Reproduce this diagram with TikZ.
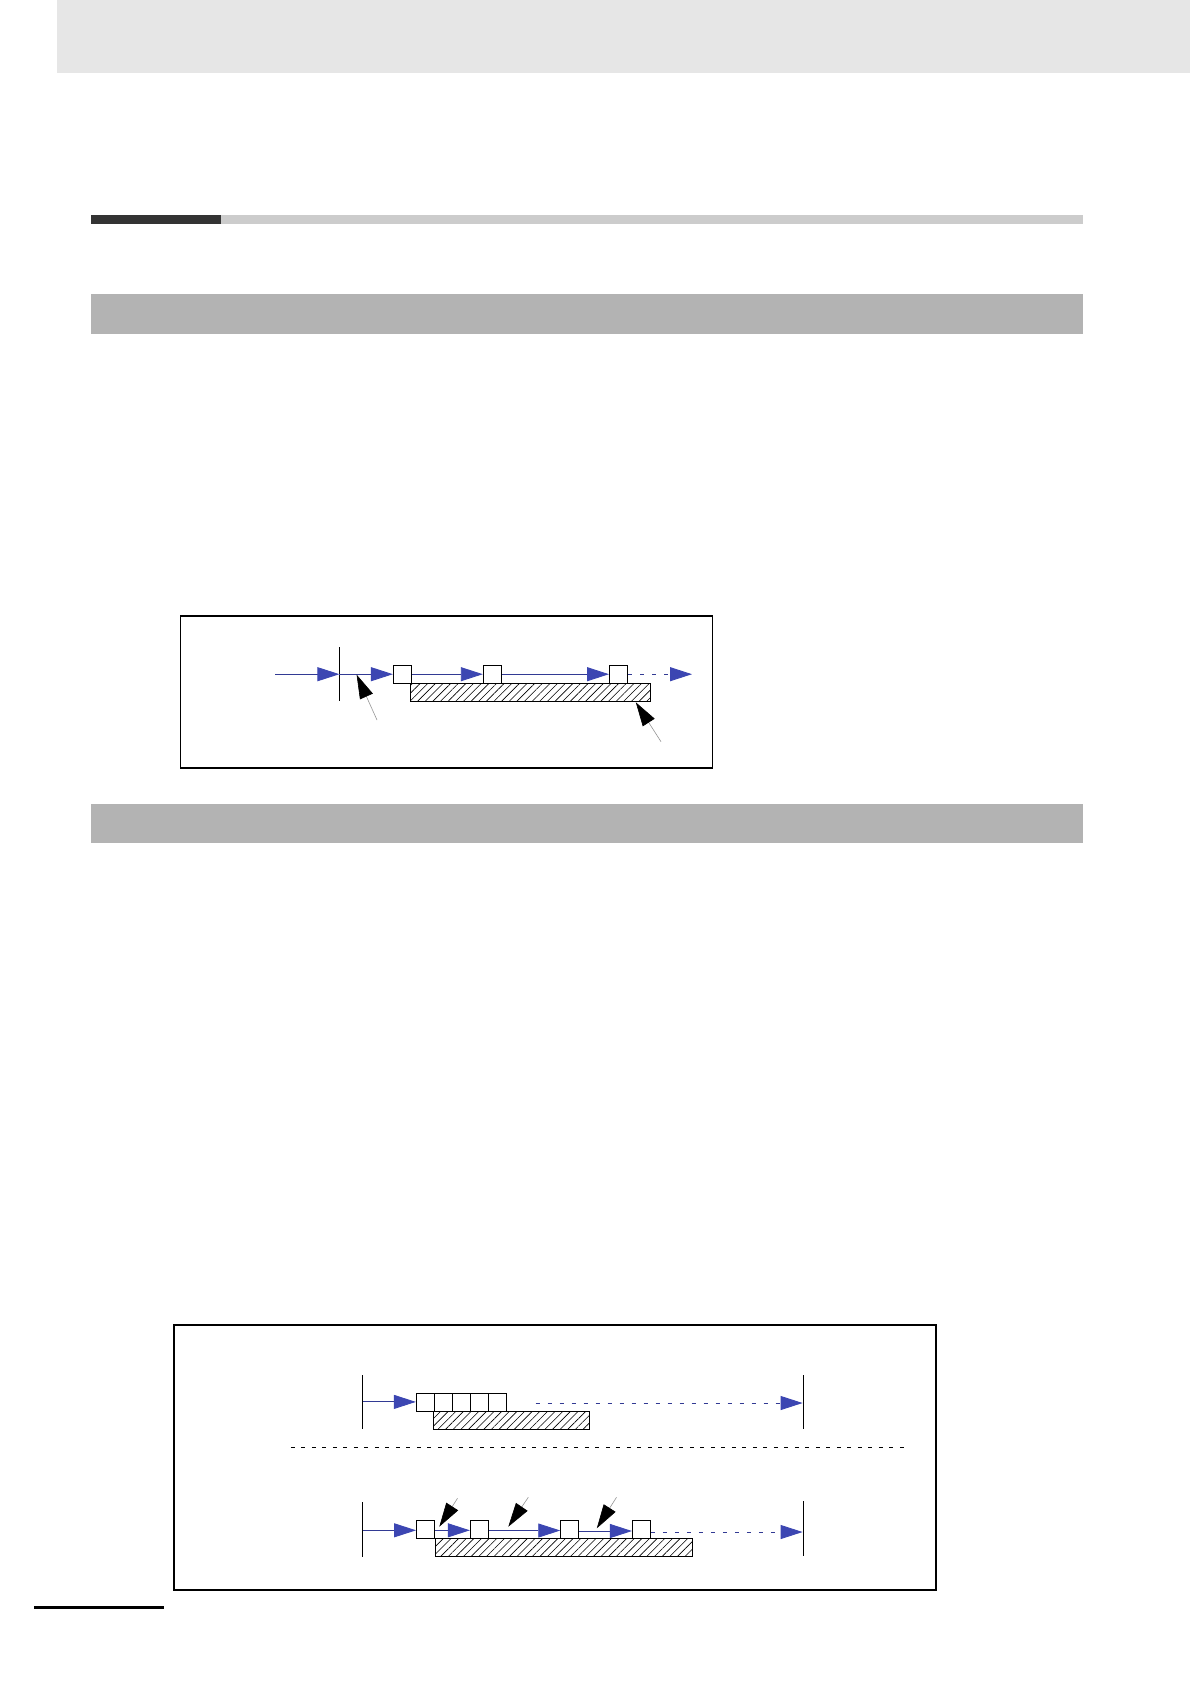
\documentclass[tikz,border=0pt]{standalone}
\usetikzlibrary{arrows.meta,patterns.meta}
\definecolor{bandgray}{HTML}{E6E6E6}
\definecolor{bargray}{HTML}{B3B3B3}
\definecolor{lightbar}{HTML}{CCCCCC}
\definecolor{darkbar}{HTML}{333333}
\definecolor{lineblue}{RGB}{50,58,148}
\definecolor{headblue}{RGB}{60,70,178}
\definecolor{ptrgray}{RGB}{150,150,150}
\tikzset{
  frame/.style={draw=black,line width=1.1bp},
  sq/.style={draw=black,fill=white,line width=0.9bp,inner sep=0pt,minimum size=18.3bp},
  hatchbox/.style={draw=black,line width=0.9bp,inner sep=0pt,
    pattern={Lines[angle=45,distance=5.4bp,line width=0.6bp]}},
  flow/.style={draw=lineblue,line width=0.9bp,-{Triangle[length=22bp,width=14bp,color=headblue]}},
  flowdash/.style={flow,dash pattern=on 4bp off 8bp},
  vbar/.style={draw=black,line width=1.3bp},
  pointer/.style={draw=ptrgray,line width=0.6bp,-{Triangle[length=24bp,width=14bp,color=black]}},
  sepline/.style={draw=black,line width=0.9bp,dash pattern=on 4bp off 6.5bp}
}
\begin{document}
\begin{tikzpicture}[x=1bp,y=-1bp]
\useasboundingbox (0,0) rectangle (1190,1684);
\fill[white] (0,0) rectangle (1190,1684);
% page decoration
\fill[bandgray] (57,0) rectangle (1190,73);
\fill[darkbar] (91,215) rectangle (221,223.5);
\fill[lightbar] (221,215) rectangle (1083,223.5);
\fill[bargray] (91,293.5) rectangle (1083,334);
\fill[bargray] (91,803.5) rectangle (1083,843);
\draw[black,line width=2.2bp] (34,1607.5) -- (164,1607.5);

% ---------- Figure 1 ----------
\node[frame,inner sep=0pt,minimum width=532bp,minimum height=152bp] (box1) at (446.5,692) {};
\node[hatchbox,minimum width=240.2bp,minimum height=18bp] (h1) at (530.4,692.3) {};
\node[sq] (s1) at (402.5,674.2) {};
\node[sq] (s2) at (492.4,674.2) {};
\node[sq] (s3) at (618.6,674.2) {};
\coordinate (a0) at (275.2,674.2);
\coordinate (v1) at (339.4,674.2);
\coordinate (v1t) at (339.4,647);
\coordinate (v1b) at (339.4,701);
\coordinate (e1) at (692,674.2);
\draw[vbar] (v1t) -- (v1b);
\draw[flow] (a0) -- (v1);
\draw[flow] (v1) -- (s1.west);
\draw[flow] (s1.east) -- (s2.west);
\draw[flow] (s2.east) -- (s3.west);
\draw[flowdash] (s3.east) -- (e1);
\coordinate (p1tail) at (377,720);
\coordinate (p1tip) at (356.6,674.6);
\coordinate (p2tail) at (661,741.7);
\coordinate (p2tip) at (635.8,702.3);
\draw[pointer] (p1tail) -- (p1tip);
\draw[pointer] (p2tail) -- (p2tip);

% ---------- Figure 2 ----------
\node[frame,inner sep=0pt,minimum width=762bp,minimum height=265bp] (box2) at (555,1457.5) {};
% upper row
\coordinate (u0t) at (362.5,1375);
\coordinate (u0b) at (362.5,1429);
\coordinate (u1t) at (803.3,1375);
\coordinate (u1b) at (803.3,1429);
\draw[vbar] (u0t) -- (u0b);
\draw[vbar] (u1t) -- (u1b);
\node[hatchbox,minimum width=155.7bp,minimum height=18bp] (h2) at (511.55,1420.3) {};
\foreach \i/\x in {1/425.3,2/443.3,3/461.3,4/479.3,5/497.3}{
  \node[sq,minimum size=18bp] (u\i) at (\x,1402.3) {};
}
\coordinate (ua) at (362.5,1401.9);
\coordinate (ud) at (535.7,1403);
\coordinate (ue) at (802.6,1403);
\draw[flow] (ua) -- (u1.west |- ua);
\draw[flowdash] (ud) -- (ue);
% separator
\coordinate (sepl) at (290.9,1447);
\coordinate (sepr) at (903.8,1447);
\draw[sepline] (sepl) -- (sepr);
% lower row
\coordinate (l0t) at (362.5,1502);
\coordinate (l0b) at (362.5,1556.7);
\coordinate (l1t) at (803.3,1501);
\coordinate (l1b) at (803.3,1555.7);
\draw[vbar] (l0t) -- (l0b);
\draw[vbar] (l1t) -- (l1b);
\node[hatchbox,minimum width=256.6bp,minimum height=17.8bp] (h3) at (564,1547.2) {};
\node[sq,minimum size=18bp] (qa) at (425.5,1529.5) {};
\node[sq,minimum size=18bp] (qb) at (479.3,1529.5) {};
\node[sq,minimum size=18bp] (qc) at (569.7,1529.5) {};
\node[sq,minimum size=18bp] (qd) at (641.4,1529.8) {};
\coordinate (la) at (362.5,1530.3);
\coordinate (le) at (802.6,1532);
\draw[flow] (la) -- (qa.west |- la);
\draw[flow] (qa.east |- 0,1530.3) -- (qb.west |- 0,1530.3);
\draw[flow] (qb.east |- 0,1530.5) -- (qc.west |- 0,1530.5);
\draw[flow] (qc.east |- 0,1531) -- (qd.west |- 0,1531);
\draw[flowdash] (qd.east |- le) -- (le);
\coordinate (q1tail) at (457.5,1498.3);
\coordinate (q1tip) at (439.3,1526.7);
\coordinate (q2tail) at (528.3,1497.3);
\coordinate (q2tip) at (508.3,1526.7);
\coordinate (q3tail) at (616.5,1497.3);
\coordinate (q3tip) at (596.8,1528.3);
\draw[pointer] (q1tail) -- (q1tip);
\draw[pointer] (q2tail) -- (q2tip);
\draw[pointer] (q3tail) -- (q3tip);
\end{tikzpicture}
\end{document}
